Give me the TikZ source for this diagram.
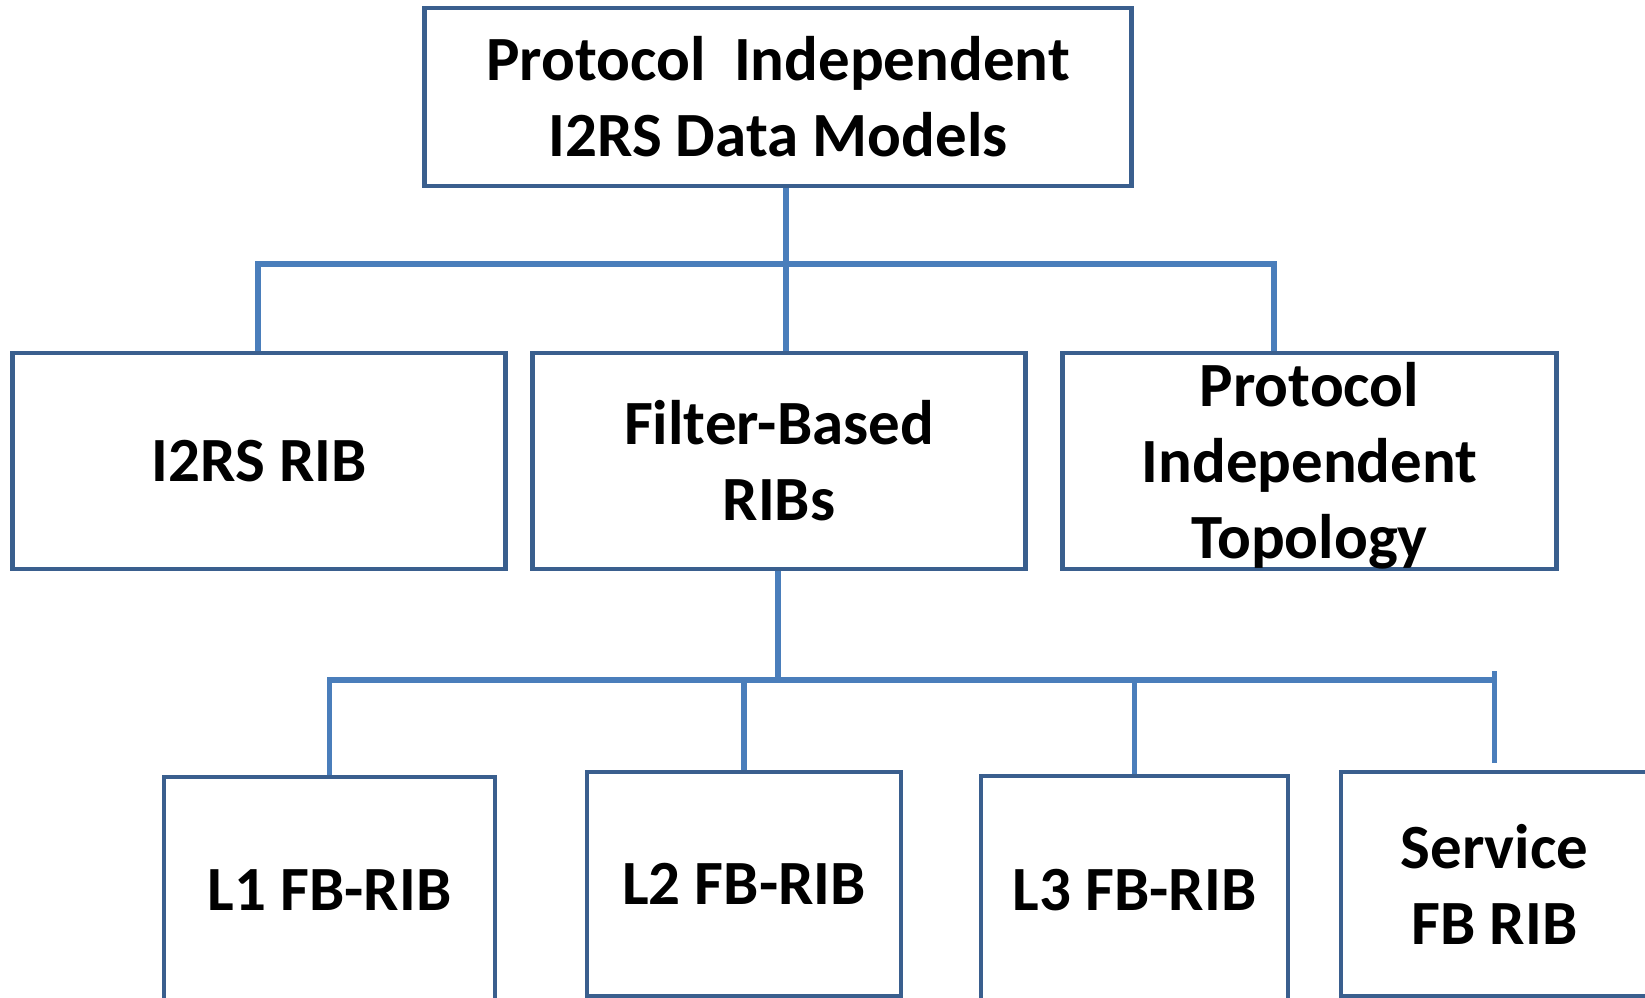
\documentclass[tikz,border=0pt]{standalone}
\usepackage{fontspec}
\setmainfont{Carlito}
\definecolor{boxblue}{HTML}{3A5F8E}
\definecolor{lineblue}{HTML}{4A7EBB}
\begin{document}
\begin{tikzpicture}[x=0.01cm, y=-0.01cm,
  box/.style={draw=boxblue, line width=1.35pt, fill=white, inner sep=0pt, align=center,
    font=\fontsize{17.9pt}{21.6pt}\selectfont\bfseries},
  link/.style={draw=lineblue, line width=1.6pt}]
  \useasboundingbox (0,0) rectangle (1645,998);
  \clip (0,0) rectangle (1645,998);

  % Draw top box
  \node[box, minimum width=7.06cm, minimum height=1.78cm] (pidm) at (778,97) {Protocol\ \ Independent\\I2RS Data Models};

  % Draw middle boxes
  \node[box, minimum width=4.92cm, minimum height=2.16cm] (rib) at (259,461) {I2RS RIB};
  \node[box, minimum width=4.92cm, minimum height=2.16cm] (fbrib) at (779,461) {Filter-Based\\RIBs};
  \node[box, minimum width=4.93cm, minimum height=2.16cm] (topo) at (1309.5,461) {};
  \node[align=center, font=\fontsize{17.9pt}{21.6pt}\selectfont\bfseries] (topotext) at ([yshift=-0.05cm]topo.center) {Protocol\\Independent\\Topology};

  % Draw bottom boxes
  \node[box, minimum width=3.31cm, minimum height=2.26cm] (l1) at (329.5,890) {L1 FB-RIB};
  \node[box, minimum width=3.14cm, minimum height=2.24cm] (l2) at (744,884) {L2 FB-RIB};
  \node[box, minimum width=3.07cm, minimum height=2.28cm] (l3) at (1134.5,890) {L3 FB-RIB};
  \node[box, minimum width=3.07cm, minimum height=2.24cm] (svc) at (1494.5,884) {Service\\FB RIB};

  % Junction points
  \coordinate (hub1) at (786,264);
  \coordinate (left1) at (258,264);
  \coordinate (right1) at (1274,264);
  \coordinate (hub2) at (778,680);

  % Connect top box to middle boxes
  \draw[link] (pidm.south -| hub1) -- (fbrib.north -| hub1);
  \draw[link] (rib.north -| left1) -- (left1) -- (right1) -- (topo.north -| right1);

  % Connect middle box to bottom boxes
  \draw[link] (fbrib.south -| hub2) -- (hub2);
  \draw[link] (l1.north) -- (l1.north |- hub2) -- (svc.north |- hub2);
  \draw[link] (l2.north) -- (l2.north |- hub2);
  \draw[link] (l3.north) -- (l3.north |- hub2);
  \draw[link] ([yshift=0.07cm]svc.north) -- ([yshift=0.09cm]svc.north |- hub2);
\end{tikzpicture}
\end{document}
